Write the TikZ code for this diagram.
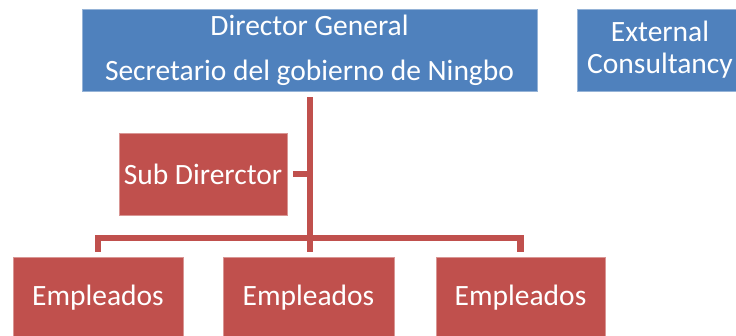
\documentclass[tikz,border=0pt]{standalone}
\usepackage{fontspec}
\setmainfont{Carlito}
\definecolor{boxblue}{HTML}{4F81BD}
\definecolor{boxred}{HTML}{C0504D}
\begin{document}
\begin{tikzpicture}[x=1pt,y=-1pt,
  box/.style={rectangle,inner sep=0pt,text=white,align=center,
    font=\fontsize{29.5}{32}\selectfont,minimum height=82pt},
  bluebox/.style={box,fill=boxblue,draw=boxblue!60!white,line width=0.6pt},
  redbox/.style={box,fill=boxred,draw=boxred!60!white,line width=0.6pt},
  conn/.style={draw=boxred,line width=6.5pt,line join=miter,line cap=butt}]
\useasboundingbox (0,0) rectangle (736,335);
\clip (0,0) rectangle (736,335);
\node[bluebox,minimum width=455pt,font=\fontsize{29.5}{45}\selectfont] (top) at (309.5,50) {Director General\\Secretario del gobierno de Ningbo};
\node[bluebox,minimum width=166pt] (ext) at (660,50) {External\\Consultancy};
\node[redbox,minimum width=168pt] (sub) at (203,174) {Sub Direrctor};
\node[redbox,minimum width=170pt] (e1) at (98,298) {Empleados};
\node[redbox,minimum width=171pt] (e2) at (308.5,298) {Empleados};
\node[redbox,minimum width=169pt] (e3) at (520.5,298) {Empleados};
\coordinate (trunk) at (310,238);
\draw[conn] ([yshift=-6pt]top.south -| trunk) -- ([yshift=5pt]e2.north -| trunk);
\draw[conn] ([xshift=6pt]sub.east) -- (sub.east -| trunk);
\draw[conn] ([yshift=5pt]e1.north) -- (e1.north |- trunk) -- (e3.north |- trunk) -- ([yshift=5pt]e3.north);
\end{tikzpicture}
\end{document}
